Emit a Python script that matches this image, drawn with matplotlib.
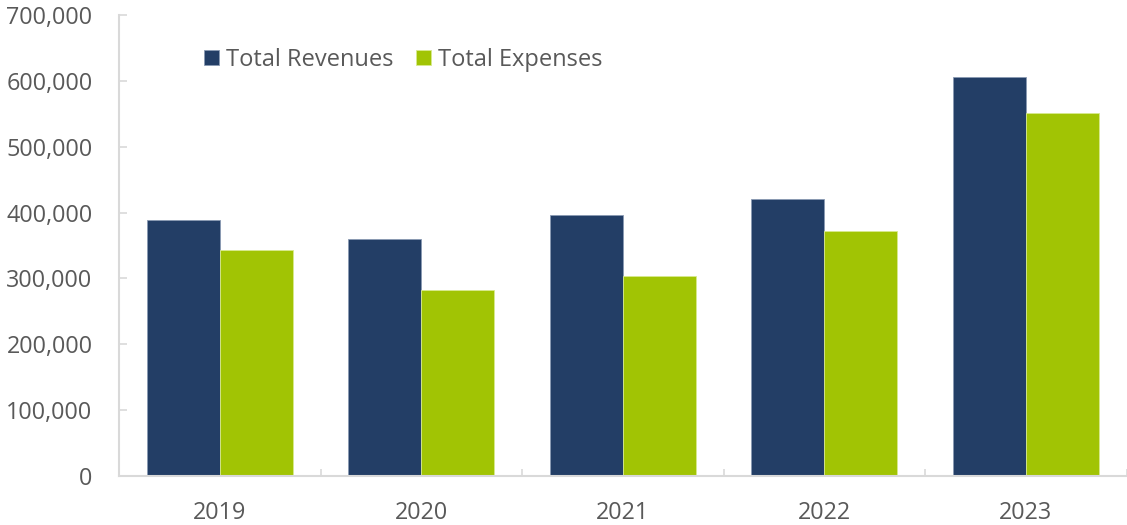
import matplotlib.pyplot as plt
import numpy as np
from matplotlib.ticker import FuncFormatter

plt.rcParams["font.family"] = ["Open Sans", "DejaVu Sans"]

YEARS = ["2019", "2020", "2021", "2022", "2023"]
REVENUES = [388000, 360000, 397000, 420000, 606000]
EXPENSES = [343000, 282000, 304000, 372000, 551000]

NAVY = "#233E66"
GREEN = "#A1C404"
GRAY_TXT = "#595959"
SPINE = "#D9D9D9"

fig = plt.figure(figsize=(11.27, 5.25), dpi=100)
ax = fig.add_axes([0.1056, 0.094, 0.894, 0.877])

x = np.arange(len(YEARS))
w = 0.363
ax.bar(x - w / 2, REVENUES, w, color=NAVY, edgecolor="#8a9ab3", lw=0.6, label="Total Revenues")
ax.bar(x + w / 2, EXPENSES, w, color=GREEN, edgecolor="#d8ea8f", lw=0.6, label="Total Expenses")

ax.set_xlim(-0.5, len(YEARS) - 0.5)
ax.set_ylim(0, 700000)
ax.set_yticks(np.arange(0, 700001, 100000))
ax.yaxis.set_major_formatter(FuncFormatter(lambda v, _: f"{int(v):,}"))
ax.set_xticks(x)
ax.set_xticklabels(YEARS)
ax.set_xticks(np.arange(0.5, len(YEARS), 1.0), minor=True)

for s in ["top", "right"]:
    ax.spines[s].set_visible(False)
for s in ["left", "bottom"]:
    ax.spines[s].set_color(SPINE)
    ax.spines[s].set_linewidth(1.5)

ax.tick_params(axis="y", direction="in", length=6, width=1.2, color=SPINE,
               labelsize=16.8, labelcolor=GRAY_TXT, pad=19)
ax.tick_params(axis="x", which="major", length=0, labelsize=16.8,
               labelcolor=GRAY_TXT, pad=18.5)
ax.tick_params(axis="x", which="minor", direction="in", length=5, width=1.2,
               color=SPINE)

leg = ax.legend(loc="upper left", bbox_to_anchor=(0.075, 0.95), ncol=2, frameon=False,
                fontsize=17, handlelength=0.64, handleheight=0.64,
                handletextpad=0.3, columnspacing=0.95, borderaxespad=0)
for t in leg.get_texts():
    t.set_color(GRAY_TXT)

fig.savefig("out.png", dpi=100)
